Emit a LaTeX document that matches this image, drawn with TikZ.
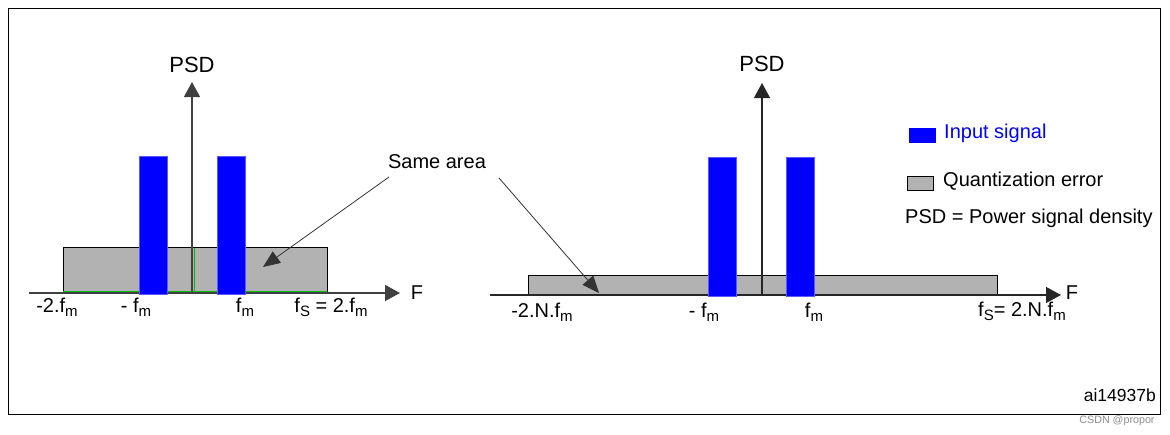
\documentclass[tikz,border=0pt]{standalone}
\usepackage{fontspec}
\setmainfont{Liberation Sans}
\usetikzlibrary{arrows.meta}
\newcommand{\lsub}[1]{\raisebox{-4.5pt}{\fontsize{15}{15}\selectfont #1}}
\begin{document}
\begin{tikzpicture}[x=1pt,y=-1pt,
  lbl/.style={font=\fontsize{20}{24}\selectfont, inner sep=0pt},
  psdlbl/.style={font=\fontsize{22}{26}\selectfont, inner sep=0pt},
  axisline/.style={draw=black!75, line width=1.3pt, -{Triangle[length=15pt,width=16pt]}},
  bar/.style={fill=blue, draw=blue!65!white, line width=0.5pt},
  qerr/.style={fill=black!30, draw=black, line width=1pt},
  callout/.style={draw=black!80, line width=0.8pt, -{Triangle[length=17pt,width=14pt]}},
  greenedge/.style={draw=green!75!black, line width=0.8pt}]
\useasboundingbox (0,0) rectangle (1170,434);
\draw[line width=1pt] (8,8) rectangle (1160,414);

% ---------- left diagram ----------
\draw[qerr] (63,247) rectangle (327,293);
\draw[greenedge] (63,291.6) -- (327,291.6);
\draw[greenedge] (194.3,247.5) -- (194.3,292);
\coordinate (lxa) at (29,293);
\coordinate (lxb) at (400,293);
\coordinate (lya) at (192,293);
\coordinate (lyb) at (192,82);
\draw[axisline] (lxa) -- (lxb);
\draw[axisline] (lya) -- (lyb);
\draw[bar] (139,156) rectangle (167,294);
\draw[bar] (217,156) rectangle (245,294);
\node[psdlbl] (lpsd) at (192,65) {PSD};
\node[lbl] (lF) at (417,293) {F};
\node[lbl, anchor=base] (l1) at (57,312) {-2.f\lsub{m}};
\node[lbl, anchor=base] (l2) at (136,312) {- f\lsub{m}};
\node[lbl, anchor=base] (l3) at (245,312) {f\lsub{m}};
\node[lbl, anchor=base] (l4) at (331,312) {f\lsub{S} = 2.f\lsub{m}};

% ---------- right diagram ----------
\draw[qerr] (528,275) rectangle (997,295);
\coordinate (rxa) at (490,295);
\coordinate (rxb) at (1061,295);
\coordinate (rya) at (762,295);
\coordinate (ryb) at (762,83);
\draw[axisline, draw=black!85] (rxa) -- (rxb);
\draw[axisline, draw=black!85] (rya) -- (ryb);
\draw[bar] (708,157) rectangle (736,296);
\draw[bar] (786,157) rectangle (814,296);
\node[psdlbl] (rpsd) at (762,64) {PSD};
\node[lbl] (rF) at (1072,293) {F};
\node[lbl, anchor=base] (r1) at (542,317) {-2.N.f\lsub{m}};
\node[lbl, anchor=base] (r2) at (704,317) {- f\lsub{m}};
\node[lbl, anchor=base] (r3) at (814,317) {f\lsub{m}};
\node[lbl, anchor=base] (r4) at (1022,316) {f\lsub{S}= 2.N.f\lsub{m}};

% ---------- same area callout ----------
\node[lbl] (same) at (437,162) {Same area};
\coordinate (sl) at (389,177);
\coordinate (sr) at (499,178);
\coordinate (tl) at (263,267);
\coordinate (tr) at (599,293);
\draw[callout] (sl) -- (tl);
\draw[callout] (sr) -- (tr);

% ---------- legend ----------
\draw[fill=blue, draw=blue] (909,128) rectangle (935,142);
\node[lbl, anchor=west, text=blue] (lgin) at (944,133) {Input signal};
\draw[fill=black!30, draw=black, line width=0.8pt] (907,176) rectangle (933,190);
\node[lbl, anchor=west] (lgq) at (943,181) {Quantization error};
\node[lbl, anchor=west] (lgpsd) at (905,218) {PSD = Power signal density};

\node[inner sep=0pt, anchor=east, font=\fontsize{17.5}{20}\selectfont] (ref) at (1156,395) {ai14937b};
\node[inner sep=0pt, text=black!45, font=\fontsize{10.7}{12}\selectfont] (wm) at (1117,421) {CSDN @propor};
\end{tikzpicture}
\end{document}
